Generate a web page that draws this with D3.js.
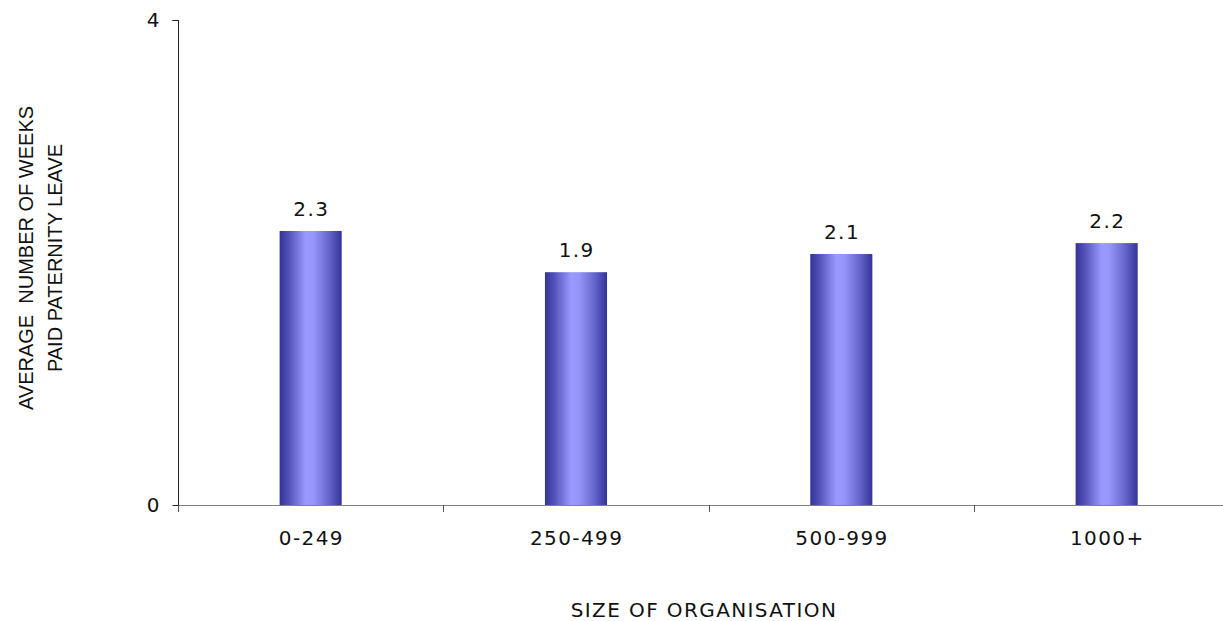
<!DOCTYPE html>
<html><head><meta charset="utf-8">
<script src="https://cdn.jsdelivr.net/npm/d3@7"></script>
<style>body{margin:0;background:#fff}svg{display:block}</style>
</head><body>
<script>
const categories = ["0-249", "250-499", "500-999", "1000+"];
const values = [2.26, 1.92, 2.07, 2.16];
const labels = ["2.3", "1.9", "2.1", "2.2"];
const yTicks = [0, 4];
const yTitle = ["AVERAGE  NUMBER OF WEEKS", "PAID PATERNITY LEAVE"];
const xTitle = "SIZE OF ORGANISATION";

const W = 1223, H = 621;
const svg = d3.select("body").append("svg").attr("width", W).attr("height", H);
const x0 = 178, x1 = 1239.3, yTop = 20, yBot = 505;
const FONT = "DejaVu Sans, Verdana, sans-serif";

const x = d3.scaleBand().domain(categories).range([x0, x1]).paddingInner(0).paddingOuter(0);
const y = d3.scaleLinear().domain([0, 4]).range([yBot, yTop]);

const defs = svg.append("defs");
const g = defs.append("linearGradient").attr("id", "bg").attr("x1", "0%").attr("x2", "100%").attr("y1", "0%").attr("y2", "0%");
[[0, "#333399"], [0.15, "#5252b8"], [0.42, "#9999ff"], [0.55, "#9595f9"], [0.8, "#6464ca"], [1, "#333399"]]
  .forEach(([o, c]) => g.append("stop").attr("offset", o).attr("stop-color", c));

const bw = x.bandwidth() * 0.234;

// x axis
const xAxis = svg.append("g").attr("transform", `translate(0,${yBot})`)
  .call(d3.axisBottom(x).tickSize(0).tickFormat(""));
xAxis.select(".domain").attr("stroke", "#808080").attr("stroke-width", 1.2).attr("d", `M${x0},0.5H${x1}`);
const bounds = categories.map(c => x(c)).concat([x1]);
svg.append("g").selectAll("line").data(bounds).join("line")
  .attr("x1", d => Math.round(d) + 0.5).attr("x2", d => Math.round(d) + 0.5)
  .attr("y1", yBot).attr("y2", yBot + 7).attr("stroke", "#555").attr("stroke-width", 1);

// y axis
const yAxis = svg.append("g").attr("transform", `translate(${x0 + 0.5},0)`)
  .call(d3.axisLeft(y).tickValues(yTicks).tickFormat(d3.format("d")).tickSize(6).tickPadding(13));
yAxis.select(".domain").attr("stroke", "#222").attr("d", `M-6,${yTop}.5H0V${yBot}`);
yAxis.selectAll(".tick line").attr("stroke", "#222");
yAxis.selectAll(".tick text").attr("font-family", FONT).attr("font-size", 20).attr("fill", "#111");

// bars
svg.append("g").selectAll("rect").data(values).join("rect")
  .attr("x", (d, i) => x(categories[i]) + x.bandwidth() / 2 - bw / 2)
  .attr("width", bw)
  .attr("y", d => y(d))
  .attr("height", d => yBot - y(d))
  .attr("fill", "url(#bg)");

// value labels
svg.append("g").selectAll("text").data(values).join("text")
  .attr("x", (d, i) => x(categories[i]) + x.bandwidth() / 2 + 0.7)
  .attr("y", d => y(d) - 15)
  .attr("text-anchor", "middle")
  .attr("font-family", FONT).attr("font-size", 20).attr("letter-spacing", 1.4).attr("fill", "#111")
  .text((d, i) => labels[i]);

// category labels
svg.append("g").selectAll("text").data(categories).join("text")
  .attr("x", d => x(d) + x.bandwidth() / 2 + 0.7)
  .attr("y", 545)
  .attr("text-anchor", "middle")
  .attr("font-family", FONT).attr("font-size", 20).attr("letter-spacing", 1.4).attr("fill", "#111")
  .text(d => d);

// x title
svg.append("text").attr("x", 704).attr("y", 617).attr("text-anchor", "middle")
  .attr("font-family", FONT).attr("font-size", 20).attr("letter-spacing", 1.4).attr("fill", "#111")
  .text(xTitle);

// y title
const yt = svg.append("text").attr("transform", "translate(0,258) rotate(-90)")
  .attr("text-anchor", "middle")
  .attr("font-family", "Liberation Sans, Arial, sans-serif").attr("font-size", 20).attr("fill", "#111")
  .style("white-space", "pre");
yTitle.forEach((t, i) => yt.append("tspan").attr("x", 0).attr("y", i === 0 ? 33 : 62).text(t));
</script>
</body></html>
